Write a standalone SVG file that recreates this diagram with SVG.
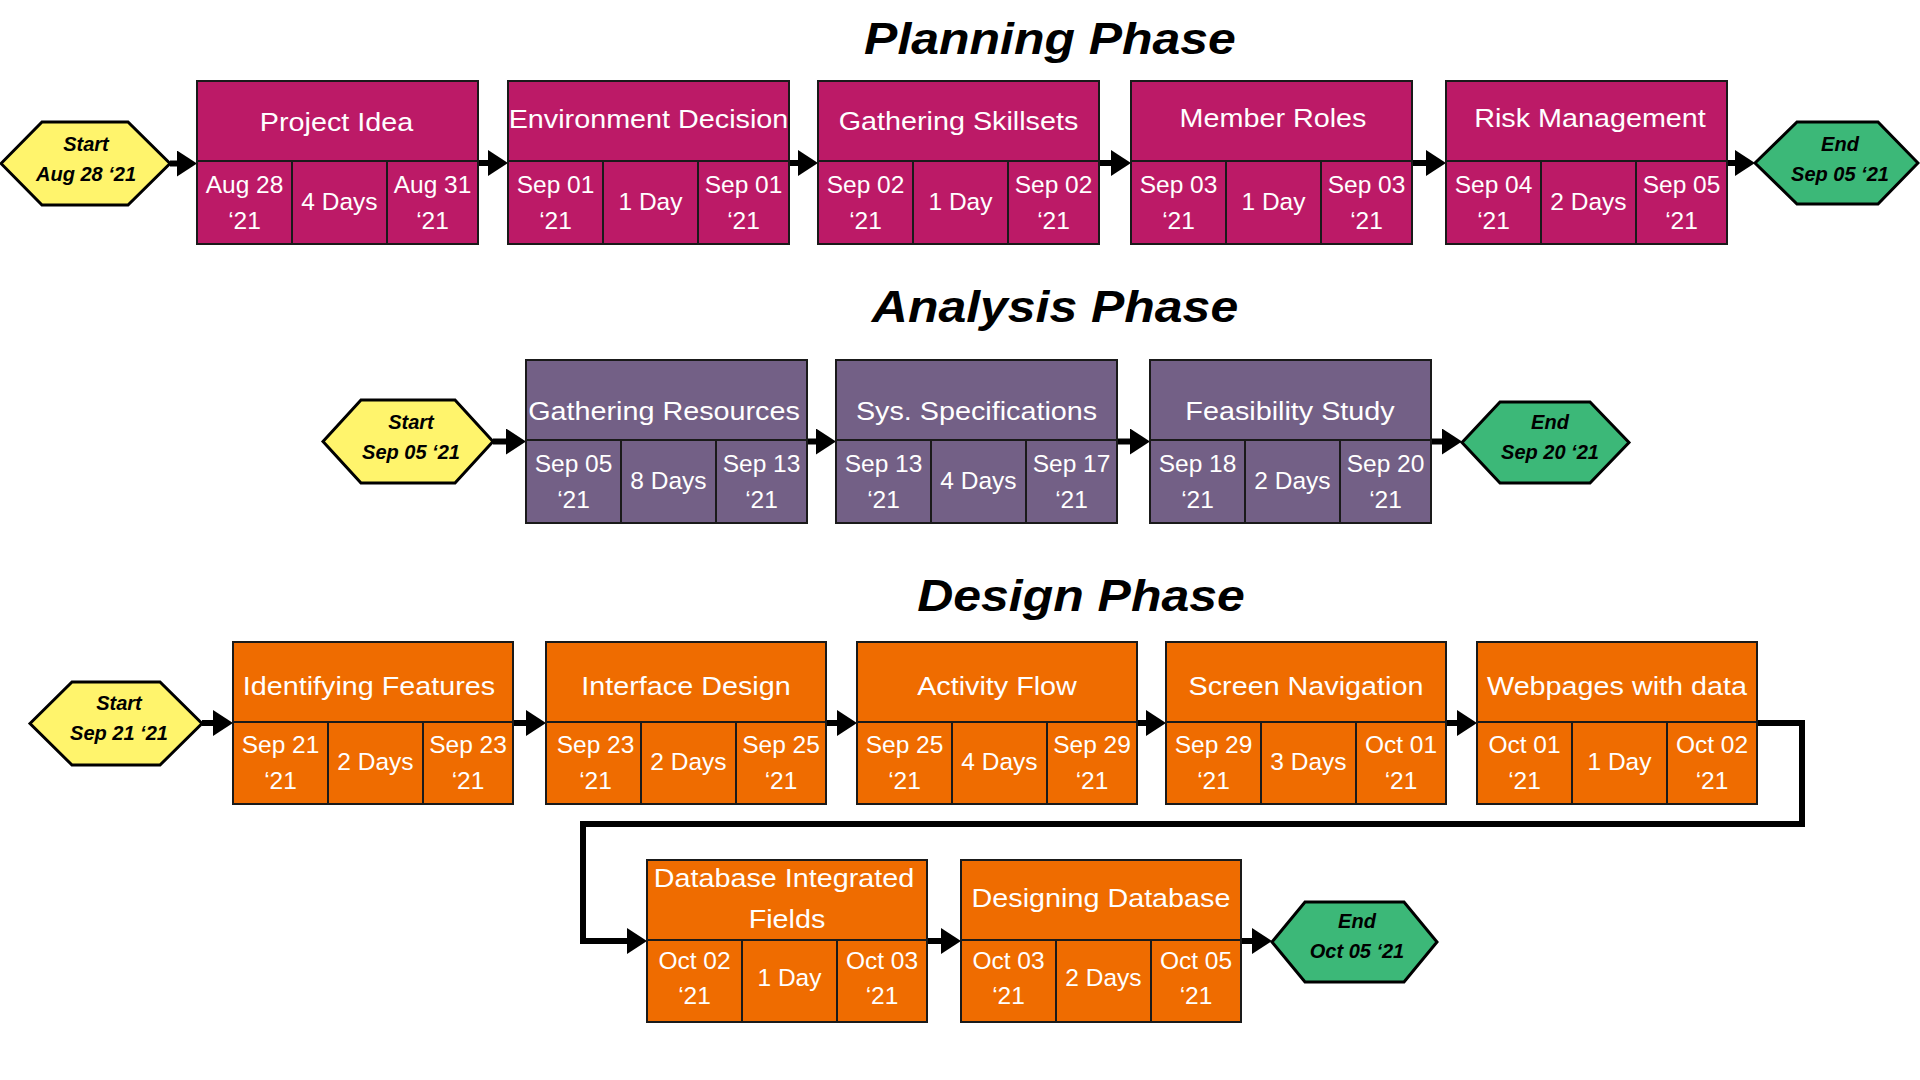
<svg xmlns="http://www.w3.org/2000/svg" width="1920" height="1080" viewBox="0 0 1920 1080">
<style>
.title{font-family:"Liberation Sans",Arial,sans-serif;font-weight:bold;font-style:italic;font-size:45px;fill:#000;text-anchor:middle}
.box rect{stroke:#1a1a1a;stroke-width:2}
.plan rect{fill:#BC1A67}
.anal rect{fill:#736086}
.des rect{fill:#EF6C00}
.hd{font-family:"Liberation Sans",Arial,sans-serif;font-size:25px;fill:#fff;text-anchor:middle}
.cl{font-family:"Liberation Sans",Arial,sans-serif;font-size:24.5px;fill:#fff;text-anchor:middle}
.hex polygon{stroke:#000;stroke-width:3}
.start polygon{fill:#FFF46C}
.end polygon{fill:#3CB878}
.hx{font-family:"Liberation Sans",Arial,sans-serif;font-weight:bold;font-style:italic;font-size:20px;fill:#000;text-anchor:middle}
.conn path{fill:none;stroke:#000;stroke-width:6;marker-end:url(#arr)}
</style>
<defs>
<marker id="arr" viewBox="0 0 20 26" refX="1" refY="13" markerWidth="20" markerHeight="26" markerUnits="userSpaceOnUse" orient="auto">
<path d="M0,0 L20,13 L0,26 z" fill="#000"/>
</marker>
</defs>
<rect width="1920" height="1080" fill="#fff"/>

<text class="title" transform="translate(1050,54) scale(1.11,1)">Planning Phase</text>
<text class="title" transform="translate(1055,322) scale(1.11,1)">Analysis Phase</text>
<text class="title" transform="translate(1081,611) scale(1.11,1)">Design Phase</text>

<g id="connectors" class="conn">
<path d="M170,163.5 H178"/>
<path d="M478,163 H489"/>
<path d="M789,163 H799"/>
<path d="M1099,163 H1112"/>
<path d="M1412,163 H1427"/>
<path d="M1727,163 H1736"/>
<path d="M493,441.5 H507"/>
<path d="M807,441.5 H817"/>
<path d="M1117,441.5 H1131"/>
<path d="M1431,441.5 H1443"/>
<path d="M202,723 H214"/>
<path d="M513,723 H527"/>
<path d="M826,723 H838"/>
<path d="M1137,723 H1147"/>
<path d="M1446,723 H1458"/>
<path d="M1757,723 H1802 V824 H583 V941 H628"/>
<path d="M927,941 H942"/>
<path d="M1241,941 H1253"/>
</g>

<!-- Planning -->
<g id="plan-start" class="hex start">
<polygon points="1,163.5 42,122 128,122 170,163.5 128,205 42,205"/>
<text class="hx" x="86" y="151">Start</text>
<text class="hx" x="86" y="181">Aug 28 ‘21</text>
</g>
<g id="project-idea" class="box plan">
<rect x="197" y="81" width="281" height="80"/>
<rect x="197" y="161" width="95" height="83"/><rect x="292" y="161" width="95" height="83"/><rect x="387" y="161" width="91" height="83"/>
<text class="hd" transform="translate(336.5,131) scale(1.15,1)">Project Idea</text>
<text class="cl" x="244.5" y="192.5">Aug 28</text><text class="cl" x="244.5" y="228.5">‘21</text>
<text class="cl" x="339.5" y="210">4 Days</text>
<text class="cl" x="432.5" y="192.5">Aug 31</text><text class="cl" x="432.5" y="228.5">‘21</text>
</g>
<g id="environment-decision" class="box plan">
<rect x="508" y="81" width="281" height="80"/>
<rect x="508" y="161" width="95" height="83"/><rect x="603" y="161" width="95" height="83"/><rect x="698" y="161" width="91" height="83"/>
<text class="hd" transform="translate(648.5,127.5) scale(1.15,1)">Environment Decision</text>
<text class="cl" x="555.5" y="192.5">Sep 01</text><text class="cl" x="555.5" y="228.5">‘21</text>
<text class="cl" x="650.5" y="210">1 Day</text>
<text class="cl" x="743.5" y="192.5">Sep 01</text><text class="cl" x="743.5" y="228.5">‘21</text>
</g>
<g id="gathering-skillsets" class="box plan">
<rect x="818" y="81" width="281" height="80"/>
<rect x="818" y="161" width="95" height="83"/><rect x="913" y="161" width="95" height="83"/><rect x="1008" y="161" width="91" height="83"/>
<text class="hd" transform="translate(958.5,129.5) scale(1.15,1)">Gathering Skillsets</text>
<text class="cl" x="865.5" y="192.5">Sep 02</text><text class="cl" x="865.5" y="228.5">‘21</text>
<text class="cl" x="960.5" y="210">1 Day</text>
<text class="cl" x="1053.5" y="192.5">Sep 02</text><text class="cl" x="1053.5" y="228.5">‘21</text>
</g>
<g id="member-roles" class="box plan">
<rect x="1131" y="81" width="281" height="80"/>
<rect x="1131" y="161" width="95" height="83"/><rect x="1226" y="161" width="95" height="83"/><rect x="1321" y="161" width="91" height="83"/>
<text class="hd" transform="translate(1273,127) scale(1.15,1)">Member Roles</text>
<text class="cl" x="1178.5" y="192.5">Sep 03</text><text class="cl" x="1178.5" y="228.5">‘21</text>
<text class="cl" x="1273.5" y="210">1 Day</text>
<text class="cl" x="1366.5" y="192.5">Sep 03</text><text class="cl" x="1366.5" y="228.5">‘21</text>
</g>
<g id="risk-management" class="box plan">
<rect x="1446" y="81" width="281" height="80"/>
<rect x="1446" y="161" width="95" height="83"/><rect x="1541" y="161" width="95" height="83"/><rect x="1636" y="161" width="91" height="83"/>
<text class="hd" transform="translate(1590,127) scale(1.15,1)">Risk Management</text>
<text class="cl" x="1493.5" y="192.5">Sep 04</text><text class="cl" x="1493.5" y="228.5">‘21</text>
<text class="cl" x="1588.5" y="210">2 Days</text>
<text class="cl" x="1681.5" y="192.5">Sep 05</text><text class="cl" x="1681.5" y="228.5">‘21</text>
</g>
<g id="plan-end" class="hex end">
<polygon points="1755,163 1797,122 1878,122 1918,163 1878,204 1797,204"/>
<text class="hx" x="1840" y="151">End</text>
<text class="hx" x="1840" y="181">Sep 05 ‘21</text>
</g>

<!-- Analysis -->
<g id="anal-start" class="hex start">
<polygon points="323,441.5 361,400 455,400 493,441.5 455,483 361,483"/>
<text class="hx" x="411" y="428.5">Start</text>
<text class="hx" x="411" y="458.5">Sep 05 ‘21</text>
</g>
<g id="gathering-resources" class="box anal">
<rect x="526" y="360" width="281" height="80"/>
<rect x="526" y="440" width="95" height="83"/><rect x="621" y="440" width="95" height="83"/><rect x="716" y="440" width="91" height="83"/>
<text class="hd" transform="translate(664,419.5) scale(1.15,1)">Gathering Resources</text>
<text class="cl" x="573.5" y="471.5">Sep 05</text><text class="cl" x="573.5" y="507.5">‘21</text>
<text class="cl" x="668.5" y="488.5">8 Days</text>
<text class="cl" x="761.5" y="471.5">Sep 13</text><text class="cl" x="761.5" y="507.5">‘21</text>
</g>
<g id="sys-specifications" class="box anal">
<rect x="836" y="360" width="281" height="80"/>
<rect x="836" y="440" width="95" height="83"/><rect x="931" y="440" width="95" height="83"/><rect x="1026" y="440" width="91" height="83"/>
<text class="hd" transform="translate(976.5,419.5) scale(1.15,1)">Sys. Specifications</text>
<text class="cl" x="883.5" y="471.5">Sep 13</text><text class="cl" x="883.5" y="507.5">‘21</text>
<text class="cl" x="978.5" y="488.5">4 Days</text>
<text class="cl" x="1071.5" y="471.5">Sep 17</text><text class="cl" x="1071.5" y="507.5">‘21</text>
</g>
<g id="feasibility-study" class="box anal">
<rect x="1150" y="360" width="281" height="80"/>
<rect x="1150" y="440" width="95" height="83"/><rect x="1245" y="440" width="95" height="83"/><rect x="1340" y="440" width="91" height="83"/>
<text class="hd" transform="translate(1290,419.5) scale(1.15,1)">Feasibility Study</text>
<text class="cl" x="1197.5" y="471.5">Sep 18</text><text class="cl" x="1197.5" y="507.5">‘21</text>
<text class="cl" x="1292.5" y="488.5">2 Days</text>
<text class="cl" x="1385.5" y="471.5">Sep 20</text><text class="cl" x="1385.5" y="507.5">‘21</text>
</g>
<g id="anal-end" class="hex end">
<polygon points="1462,442.5 1500,402 1590,402 1629,442.5 1590,483 1500,483"/>
<text class="hx" x="1550" y="428.5">End</text>
<text class="hx" x="1550" y="458.5">Sep 20 ‘21</text>
</g>

<!-- Design -->
<g id="des-start" class="hex start">
<polygon points="30,723.5 72,682 160,682 202,723.5 160,765 72,765"/>
<text class="hx" x="119" y="710">Start</text>
<text class="hx" x="119" y="740">Sep 21 ‘21</text>
</g>
<g id="identifying-features" class="box des">
<rect x="233" y="642" width="280" height="80"/>
<rect x="233" y="722" width="95" height="82"/><rect x="328" y="722" width="95" height="82"/><rect x="423" y="722" width="90" height="82"/>
<text class="hd" transform="translate(369,695) scale(1.15,1)">Identifying Features</text>
<text class="cl" x="280.5" y="753">Sep 21</text><text class="cl" x="280.5" y="789">‘21</text>
<text class="cl" x="375.5" y="770">2 Days</text>
<text class="cl" x="468" y="753">Sep 23</text><text class="cl" x="468" y="789">‘21</text>
</g>
<g id="interface-design" class="box des">
<rect x="546" y="642" width="280" height="80"/>
<rect x="546" y="722" width="95" height="82"/><rect x="641" y="722" width="95" height="82"/><rect x="736" y="722" width="90" height="82"/>
<text class="hd" transform="translate(686,695) scale(1.15,1)">Interface Design</text>
<text class="cl" x="595.5" y="753">Sep 23</text><text class="cl" x="595.5" y="789">‘21</text>
<text class="cl" x="688.5" y="770">2 Days</text>
<text class="cl" x="781" y="753">Sep 25</text><text class="cl" x="781" y="789">‘21</text>
</g>
<g id="activity-flow" class="box des">
<rect x="857" y="642" width="280" height="80"/>
<rect x="857" y="722" width="95" height="82"/><rect x="952" y="722" width="95" height="82"/><rect x="1047" y="722" width="90" height="82"/>
<text class="hd" transform="translate(997,695) scale(1.15,1)">Activity Flow</text>
<text class="cl" x="904.5" y="753">Sep 25</text><text class="cl" x="904.5" y="789">‘21</text>
<text class="cl" x="999.5" y="770">4 Days</text>
<text class="cl" x="1092" y="753">Sep 29</text><text class="cl" x="1092" y="789">‘21</text>
</g>
<g id="screen-navigation" class="box des">
<rect x="1166" y="642" width="280" height="80"/>
<rect x="1166" y="722" width="95" height="82"/><rect x="1261" y="722" width="95" height="82"/><rect x="1356" y="722" width="90" height="82"/>
<text class="hd" transform="translate(1306,695) scale(1.15,1)">Screen Navigation</text>
<text class="cl" x="1213.5" y="753">Sep 29</text><text class="cl" x="1213.5" y="789">‘21</text>
<text class="cl" x="1308.5" y="770">3 Days</text>
<text class="cl" x="1401" y="753">Oct 01</text><text class="cl" x="1401" y="789">‘21</text>
</g>
<g id="webpages-with-data" class="box des">
<rect x="1477" y="642" width="280" height="80"/>
<rect x="1477" y="722" width="95" height="82"/><rect x="1572" y="722" width="95" height="82"/><rect x="1667" y="722" width="90" height="82"/>
<text class="hd" transform="translate(1617,695) scale(1.15,1)">Webpages with data</text>
<text class="cl" x="1524.5" y="753">Oct 01</text><text class="cl" x="1524.5" y="789">‘21</text>
<text class="cl" x="1619.5" y="770">1 Day</text>
<text class="cl" x="1712" y="753">Oct 02</text><text class="cl" x="1712" y="789">‘21</text>
</g>
<g id="database-integrated-fields" class="box des">
<rect x="647" y="860" width="280" height="80"/>
<rect x="647" y="940" width="95" height="82"/><rect x="742" y="940" width="95" height="82"/><rect x="837" y="940" width="90" height="82"/>
<text class="hd" transform="translate(784,887) scale(1.15,1)">Database Integrated</text>
<text class="hd" transform="translate(787,928) scale(1.15,1)">Fields</text>
<text class="cl" x="694.5" y="969">Oct 02</text><text class="cl" x="694.5" y="1004">‘21</text>
<text class="cl" x="789.5" y="986">1 Day</text>
<text class="cl" x="882" y="969">Oct 03</text><text class="cl" x="882" y="1004">‘21</text>
</g>
<g id="designing-database" class="box des">
<rect x="961" y="860" width="280" height="80"/>
<rect x="961" y="940" width="95" height="82"/><rect x="1056" y="940" width="95" height="82"/><rect x="1151" y="940" width="90" height="82"/>
<text class="hd" transform="translate(1101,907) scale(1.15,1)">Designing Database</text>
<text class="cl" x="1008.5" y="969">Oct 03</text><text class="cl" x="1008.5" y="1004">‘21</text>
<text class="cl" x="1103.5" y="986">2 Days</text>
<text class="cl" x="1196" y="969">Oct 05</text><text class="cl" x="1196" y="1004">‘21</text>
</g>
<g id="des-end" class="hex end">
<polygon points="1272,942 1305,902 1404,902 1437,942 1404,982 1305,982"/>
<text class="hx" x="1357" y="928">End</text>
<text class="hx" x="1357" y="958">Oct 05 ‘21</text>
</g>
</svg>
